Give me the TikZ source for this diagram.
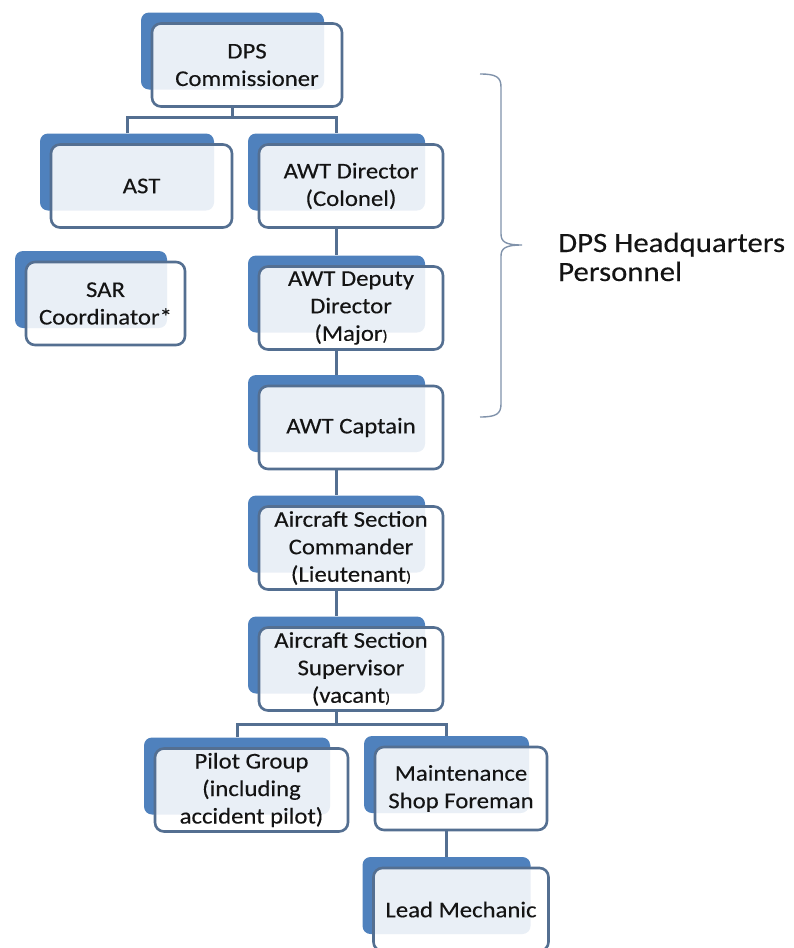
\documentclass[tikz,border=0pt]{standalone}
\usepackage{fontspec}
\setmainfont{Carlito}[FakeStretch=1.1, FakeBold=0.25]
\usetikzlibrary{calc}
\definecolor{cardblue}{RGB}{79,129,189}
\definecolor{cardline}{RGB}{84,111,145}
\definecolor{braceline}{RGB}{128,146,170}
\definecolor{inktext}{RGB}{20,20,20}
\newcommand{\tinyparen}{{\fontsize{15}{15}\selectfont)}}
\tikzset{
  back/.style={fill=cardblue, rounded corners=8pt, inner sep=0pt, minimum height=77pt},
  card/.style={draw=cardline, line width=2.6pt, fill=white, fill opacity=0.88, text opacity=1,
    rounded corners=9pt, inner sep=0pt, minimum height=83pt, align=center, text=inktext,
    font=\fontsize{22.5}{27.5}\selectfont},
  link/.style={draw=cardline, line width=3pt}
}

\begin{document}
\begin{tikzpicture}[x=1pt,y=-1pt]
\useasboundingbox (0,0) rectangle (793,948);
% blue cards behind
\node[back, minimum width=183pt] (dpsb) at (232.5,51) {};
\node[back, minimum width=174pt] (astb) at (127,172) {};
\node[back, minimum width=177pt] (dirb) at (336.5,172) {};
\node[back, minimum width=152pt] (sarb) at (91,289.5) {};
\node[back, minimum width=177pt] (depb) at (336.5,294) {};
\node[back, minimum width=177pt] (captb) at (336.5,413.5) {};
\node[back, minimum width=177pt] (cmdrb) at (336.5,534) {};
\node[back, minimum width=177pt] (supb) at (336.5,655) {};
\node[back, minimum width=186pt] (pilotb) at (237,776) {};
\node[back, minimum width=165pt] (maintb) at (446.5,774.5) {};
\node[back, minimum width=168pt] (leadb) at (446.5,895.5) {};
% front cards
\node[card, minimum width=190pt] (dps) at (247,65) {DPS\\Commissioner};
\node[card, minimum width=181pt] (ast) at (141.5,186) {AST};
\node[card, minimum width=184pt] (dir) at (351,186) {AWT Director\\(Colonel)};
\node[card, minimum width=159pt] (sar) at (105.5,303.5) {SAR\\Coordinator*};
\node[card, minimum width=184pt] (dep) at (351,308) {AWT Deputy\\Director\\(Major\tinyparen};
\node[card, minimum width=184pt] (capt) at (351,427.5) {AWT Captain};
\node[card, minimum width=184pt] (cmdr) at (351,548) {Aircraft Section\\Commander\\(Lieutenant\tinyparen};
\node[card, minimum width=184pt] (sup) at (351,669) {Aircraft Section\\Supervisor\\(vacant\tinyparen};
\node[card, minimum width=193pt] (pilot) at (251.5,790) {Pilot Group\\(including\\accident pilot)};
\node[card, minimum width=172pt] (maint) at (461,788.5) {Maintenance\\Shop Foreman};
\node[card, minimum width=175pt] (lead) at (461,909.5) {Lead Mechanic};
% connectors
\coordinate (fork1) at (232.5,117.5);
\coordinate (fork2) at (336.5,724);
\draw[link] (dps.south -| dpsb) -- (fork1);
\draw[link] (astb.north) |- (fork1) -| (dirb.north);
\draw[link] (dir.south -| dirb) -- (depb.north);
\draw[link] (dep.south -| depb) -- (captb.north);
\draw[link] (capt.south -| captb) -- (cmdrb.north);
\draw[link] (cmdr.south -| cmdrb) -- (supb.north);
\draw[link] (sup.south -| supb) -- (fork2);
\draw[link] (pilotb.north) |- (fork2) -| (maintb.north);
\draw[link] (maint.south -| maintb) -- (leadb.north);
% brace and its label
\draw[braceline, line width=1.4pt] (480,74) .. controls (496,74) and (501,77) .. (501,87)
  -- (501,234) .. controls (501,242) and (506,245) .. (522,245)
  .. controls (506,245) and (501,248) .. (501,256)
  -- (501,404) .. controls (501,414) and (496,417) .. (480,417);
\node[anchor=base west, align=left, inner sep=0pt, text=inktext,
  font=\fontsize{28}{29}\selectfont] (hq) at (558,281) {DPS Headquarters\\Personnel};
\end{tikzpicture}
\end{document}
